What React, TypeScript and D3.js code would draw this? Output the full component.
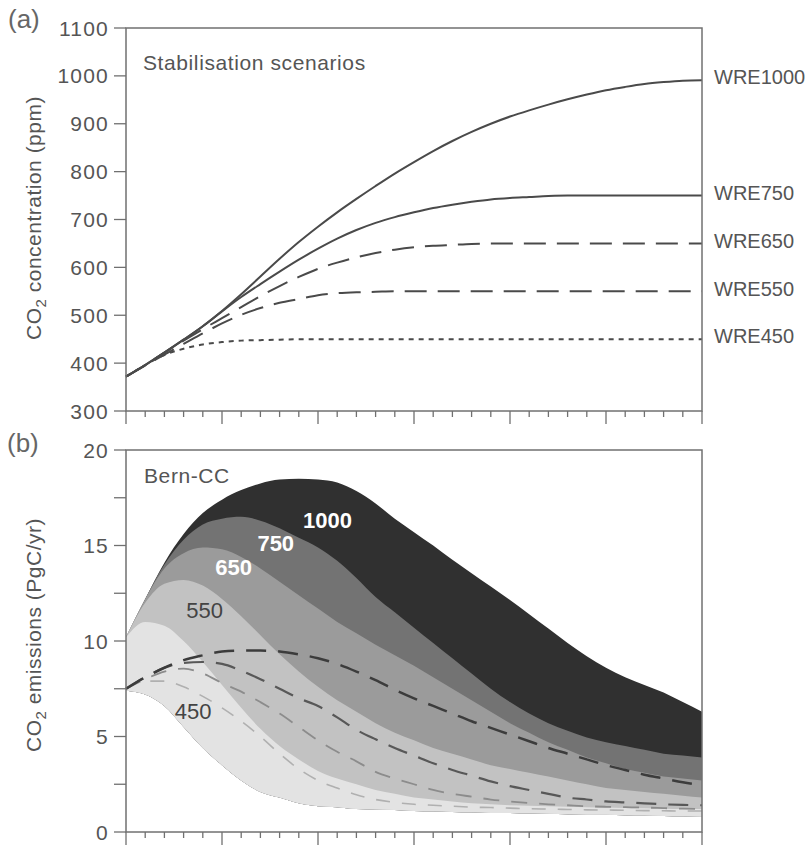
import * as d3 from "d3";

// years sampled every decade
const years = [2000, 2010, 2020, 2030, 2040, 2050, 2060, 2070, 2080, 2090, 2100, 2110, 2120, 2130, 2140, 2150, 2160, 2170, 2180, 2190, 2200, 2210, 2220, 2230, 2240, 2250, 2260, 2270, 2280, 2290, 2300];

// (a) CO2 concentration, ppm
const wre1000 = [372, 396, 422, 449, 477, 509, 544, 581, 618, 653, 685, 715, 743, 770, 796, 820, 843, 864, 883, 900, 915, 928, 940, 951, 961, 970, 977, 983, 987, 990, 991];
const wre750 = [372, 396, 422, 449, 477, 508, 538, 565, 591, 616, 639, 660, 678, 693, 705, 715, 724, 731, 737, 742, 745, 747, 749, 750, 750, 750, 750, 750, 750, 750, 750];
const wre650 = [372, 396, 422, 447, 471, 494, 517, 540, 561, 580, 597, 610, 621, 630, 637, 642, 645, 647, 649, 650, 650, 650, 650, 650, 650, 650, 650, 650, 650, 650, 650];
const wre550 = [372, 395, 418, 440, 462, 483, 501, 515, 526, 534, 542, 546, 548, 549, 550, 550, 550, 550, 550, 550, 550, 550, 550, 550, 550, 550, 550, 550, 550, 550, 550];
const wre450 = [372, 396, 417, 430, 439, 444, 447, 448, 449, 450, 450, 450, 450, 450, 450, 450, 450, 450, 450, 450, 450, 450, 450, 450, 450, 450, 450, 450, 450, 450, 450];
const concNames = ["WRE1000", "WRE750", "WRE650", "WRE550", "WRE450"];
const concTicks = [300, 400, 500, 600, 700, 800, 900, 1000, 1100];

// (b) Bern-CC emissions, PgC/yr: upper edge of each range
const upper1000 = [10.2, 12.2, 14.1, 15.6, 16.7, 17.4, 17.9, 18.25, 18.45, 18.5, 18.45, 18.3, 17.85, 17.2, 16.4, 15.7, 15.0, 14.25, 13.55, 12.85, 12.15, 11.4, 10.65, 9.9, 9.2, 8.6, 8.1, 7.7, 7.3, 6.8, 6.3];
const upper750 = [10.2, 12.2, 14.0, 15.3, 16.1, 16.4, 16.5, 16.3, 15.9, 15.4, 14.9, 14.2, 13.3, 12.3, 11.5, 10.7, 9.9, 9.1, 8.3, 7.5, 6.8, 6.2, 5.7, 5.3, 4.95, 4.7, 4.5, 4.3, 4.1, 4.0, 3.9];
const upper650 = [10.2, 12.2, 13.8, 14.6, 14.9, 14.8, 14.4, 13.8, 13.1, 12.4, 11.7, 11.0, 10.4, 9.8, 9.25, 8.7, 8.1, 7.5, 6.9, 6.3, 5.7, 5.2, 4.7, 4.3, 3.9, 3.6, 3.3, 3.1, 2.9, 2.8, 2.7];
const upper550 = [10.2, 12.0, 13.0, 13.2, 12.9, 12.2, 11.3, 10.3, 9.3, 8.4, 7.6, 6.9, 6.3, 5.7, 5.2, 4.8, 4.4, 4.1, 3.8, 3.5, 3.3, 3.1, 2.9, 2.7, 2.5, 2.3, 2.2, 2.1, 2.0, 1.9, 1.8];
const upper450 = [10.2, 11.0, 10.8, 10.0, 8.9, 7.7, 6.5, 5.4, 4.5, 3.8, 3.2, 2.8, 2.5, 2.2, 2.0, 1.8, 1.7, 1.6, 1.5, 1.45, 1.4, 1.38, 1.35, 1.32, 1.3, 1.28, 1.26, 1.24, 1.22, 1.2, 1.2];
// lowest edge of all shading
const lowerEdge = [7.4, 7.2, 6.6, 5.5, 4.4, 3.5, 2.7, 2.1, 1.8, 1.5, 1.35, 1.3, 1.2, 1.18, 1.15, 1.1, 1.08, 1.05, 1.03, 1.0, 1.0, 0.98, 0.95, 0.93, 0.9, 0.9, 0.88, 0.86, 0.84, 0.82, 0.8];
// hidden lower bounds, drawn dashed
const lower1000 = [7.5, 8.1, 8.6, 9.0, 9.25, 9.45, 9.5, 9.5, 9.45, 9.3, 9.1, 8.8, 8.4, 7.95, 7.45, 7.0, 6.6, 6.2, 5.8, 5.45, 5.1, 4.75, 4.4, 4.1, 3.8, 3.5, 3.25, 3.0, 2.8, 2.6, 2.45];
const lower750 = [7.5, 8.1, 8.6, 8.85, 8.9, 8.8, 8.45, 8.0, 7.5, 7.0, 6.6, 6.0, 5.35, 4.85, 4.4, 4.0, 3.6, 3.25, 2.95, 2.65, 2.4, 2.2, 2.0, 1.8, 1.7, 1.6, 1.55, 1.5, 1.45, 1.42, 1.4];
const lower650 = [7.5, 8.0, 8.4, 8.55, 8.3, 7.8, 7.35, 6.8, 6.2, 5.5, 4.8, 4.2, 3.7, 3.15, 2.8, 2.5, 2.2, 2.0, 1.85, 1.7, 1.6, 1.52, 1.45, 1.4, 1.35, 1.32, 1.3, 1.28, 1.25, 1.22, 1.2];
const lower550 = [7.5, 7.9, 7.9, 7.6, 7.1, 6.5, 5.8, 5.0, 4.1, 3.3, 2.7, 2.3, 1.95, 1.7, 1.55, 1.45, 1.4, 1.35, 1.3, 1.28, 1.25, 1.22, 1.2, 1.18, 1.16, 1.15, 1.14, 1.12, 1.11, 1.1, 1.1];
const bandNames = ["1000", "750", "650", "550", "450"];
const bandLabelYears = [2105, 2078, 2056, 2041, 2035];
const bandLabelValues = [16.35, 15.15, 13.85, 11.6, 6.35];
const emisTicks = [0, 5, 10, 15, 20];
const emisMinor = [2.5, 7.5, 12.5, 17.5];

const FONT = "'Liberation Sans', Arial, Helvetica, sans-serif";
const AXIS = "#707070";
const TEXT = "#555";

const x = d3.scaleLinear().domain([2000, 2300]).range([126, 702]);
const yA = d3.scaleLinear().domain([300, 1100]).range([411, 28]);
const yB = d3.scaleLinear().domain([0, 20]).range([832, 450]);

const lineA = d3.line<number>()
  .x((_, i) => x(years[i]))
  .y(d => yA(d))
  .curve(d3.curveMonotoneX);

const lineB = d3.line<number>()
  .x((_, i) => x(years[i]))
  .y(d => yB(d))
  .curve(d3.curveMonotoneX);

const areaB = (up: number[]) =>
  d3.area<number>()
    .x((_, i) => x(years[i]))
    .y0((_, i) => yB(lowerEdge[i]))
    .y1(d => yB(d))
    .curve(d3.curveMonotoneX)(up) || "";

const XAxis = ({ y0 }: { y0: number }) => (
  <g stroke={AXIS} strokeWidth={1.3}>
    {x.ticks(30).map(t => {
      const major = t % 50 === 0;
      return <line key={t} x1={x(t)} x2={x(t)} y1={y0} y2={y0 + (major ? 13 : 6)} />;
    })}
  </g>
);

const concSeries = [wre1000, wre750, wre650, wre550, wre450];
const concDash = ["", "", "22 11", "22 11", "5 5"];
const bandUppers = [upper1000, upper750, upper650, upper550, upper450];
const bandFill = ["#303030", "#737373", "#9b9b9b", "#c2c2c2", "#e3e3e3"];
const bandText = ["#fff", "#fff", "#fff", "#444", "#444"];
const lowers = [lower550, lower650, lower750, lower1000];
const lowerStyle = [
  { c: "#b0b0b0", w: 1.6, d: "14 12" },
  { c: "#8c8c8c", w: 1.8, d: "16 12" },
  { c: "#585858", w: 2.2, d: "20 12" },
  { c: "#3c3c3c", w: 2.5, d: "20 12" },
];

export default function App() {
  return (
    <svg width={811} height={847} style={{ position: "absolute", left: 0, top: 0, background: "#fff" }} fontFamily={FONT}>
      {/* panel (a) */}
      <text x={8} y={28} fontSize={26} fill="#666">(a)</text>
      {concSeries.map((s, i) => (
        <path key={i} d={lineA(s) || ""} fill="none" stroke="#4a4a4a" strokeWidth={2} strokeDasharray={concDash[i]} />
      ))}
      <rect x={126} y={28} width={576} height={383} fill="none" stroke={AXIS} strokeWidth={1.5} />
      <g stroke={AXIS} strokeWidth={1.3}>
        {concTicks.map(t => <line key={t} x1={114} x2={126} y1={yA(t)} y2={yA(t)} />)}
      </g>
      <g fontSize={21} fill={TEXT} textAnchor="end" letterSpacing={1.2}>
        {concTicks.map(t => <text key={t} x={109} y={yA(t)} dy="0.36em">{t}</text>)}
      </g>
      <XAxis y0={411} />
      <text x={143} y={70} fontSize={21} fill={TEXT} letterSpacing={0.6}>Stabilisation scenarios</text>
      <g fontSize={20} fill={TEXT}>
        {concNames.map((n, i) => (
          <text key={n} x={x(2300) + 12} y={yA(concSeries[i][30]) - 3} dy="0.36em">{n}</text>
        ))}
      </g>
      <text transform="translate(41,218) rotate(-90)" fontSize={21} fill={TEXT} textAnchor="middle" letterSpacing={0.5}>
        CO<tspan fontSize={15} dy={5}>2</tspan><tspan dy={-5}> concentration (ppm)</tspan>
      </text>

      {/* panel (b) */}
      <text x={7} y={452} fontSize={26} fill="#666">(b)</text>
      {bandUppers.map((u, i) => (
        <path key={i} d={areaB(u)} fill={bandFill[i]} />
      ))}
      {lowers.map((l, i) => (
        <path key={i} d={lineB(l) || ""} fill="none" stroke={lowerStyle[i].c} strokeWidth={lowerStyle[i].w} strokeDasharray={lowerStyle[i].d} />
      ))}
      <g fontSize={22} textAnchor="middle">
        {bandNames.map((n, i) => (
          <text key={n} x={x(bandLabelYears[i])} y={yB(bandLabelValues[i])} dy="0.36em"
            fill={bandText[i]} fontWeight={i < 3 ? "bold" : "normal"}>{n}</text>
        ))}
      </g>
      <rect x={126} y={450} width={576} height={382} fill="none" stroke={AXIS} strokeWidth={1.5} />
      <g stroke={AXIS} strokeWidth={1.3}>
        {emisTicks.concat(emisMinor).map(t => <line key={t} x1={114} x2={126} y1={yB(t)} y2={yB(t)} />)}
      </g>
      <g fontSize={21} fill={TEXT} textAnchor="end" letterSpacing={1.2}>
        {emisTicks.map(t => <text key={t} x={109} y={yB(t)} dy="0.36em">{t}</text>)}
      </g>
      <XAxis y0={832} />
      <text x={144} y={483} fontSize={21} fill={TEXT} letterSpacing={0.6}>Bern-CC</text>
      <text transform="translate(41,635) rotate(-90)" fontSize={21} fill={TEXT} textAnchor="middle" letterSpacing={0.5}>
        CO<tspan fontSize={15} dy={5}>2</tspan><tspan dy={-5}> emissions (PgC/yr)</tspan>
      </text>
    </svg>
  );
}
